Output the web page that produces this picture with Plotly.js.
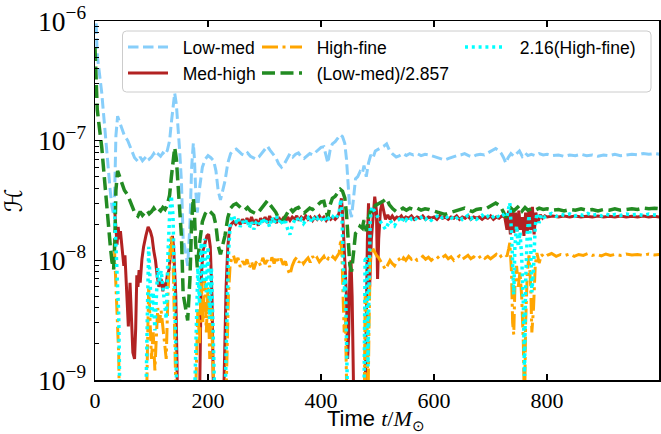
<!DOCTYPE html>
<html>
<head>
<meta charset="utf-8">
<script src="https://cdn.plot.ly/plotly-3.0.1.min.js"></script>
<style>html,body{margin:0;padding:0;background:#fff;}</style>
</head>
<body>
<div id="chart" style="width:661px;height:434px;"></div>
<script>
// ---- data: [time, H] ----
const lowMed = [[0,1.7e-6],[1,1.1e-6],[2,7e-7],[4,5.2e-7],[6,4.3e-7],[9,3.4e-7],[12,2.5e-7],[15,1.7e-7],[18,1.15e-7],[21,7.5e-8],[24,5e-8],[27,3.8e-8],[30,2.8e-8],[33,2.4e-8],[35,4e-8],[37,1.1e-7],[40,1.6e-7],[43,1.45e-7],[47,1.25e-7],[52,1.1e-7],[58,1.0e-7],[64,8.5e-8],[70,7.2e-8],[76,6.7e-8],[80,7.3e-8],[84,6.8e-8],[88,7.1e-8],[92,7.5e-8],[96,7.0e-8],[100,7.3e-8],[104,7.8e-8],[108,7.3e-8],[112,7.7e-8],[116,7.4e-8],[120,7.9e-8],[124,7.6e-8],[128,8.3e-8],[132,1.0e-7],[135,1.4e-7],[138,2.0e-7],[141,2.5e-7],[144,2.0e-7],[147,1.3e-7],[150,8e-8],[153,4.5e-8],[156,1.5e-8],[160,1.2e-8],[164,9e-9],[168,2e-8],[171,6e-8],[174,9.5e-8],[176,7e-8],[178,4e-8],[181,2.5e-8],[185,4e-8],[190,6e-8],[195,7e-8],[200,7.5e-8],[205,7.2e-8],[210,6.8e-8],[214,5.6e-8],[218,3.8e-8],[222,3.2e-8],[226,3.8e-8],[230,4.6e-8],[235,6.5e-8],[240,7.8e-8],[245,8.3e-8],[250,8.5e-8],[255,8.1e-8],[260,7.7e-8],[265,7.5e-8],[270,7.9e-8],[275,7.4e-8],[280,7.2e-8],[285,7.0e-8],[290,7.3e-8],[295,7.8e-8],[300,8.4e-8],[305,9e-8],[310,8.3e-8],[315,7.8e-8],[320,7.2e-8],[325,6.4e-8],[330,6.0e-8],[335,6.4e-8],[340,7.0e-8],[345,7.8e-8],[350,7.3e-8],[355,7.7e-8],[360,7.9e-8],[365,7.3e-8],[370,7.1e-8],[375,7.5e-8],[380,7.8e-8],[385,7.6e-8],[390,8.0e-8],[395,8.4e-8],[400,8.8e-8],[405,8.9e-8],[409,7.6e-8],[412,6.5e-8],[416,8.3e-8],[420,9.4e-8],[425,9.8e-8],[430,1.05e-7],[434,1.12e-7],[438,1.08e-7],[442,9.5e-8],[445,7e-8],[448,4e-8],[451,2.6e-8],[454,2.3e-8],[457,3.3e-8],[461,4.8e-8],[465,5.0e-8],[469,5.5e-8],[473,5.3e-8],[476,6.2e-8],[480,5.0e-8],[484,6.5e-8],[488,7.6e-8],[492,7.2e-8],[496,8.2e-8],[500,8.4e-8],[506,8.6e-8],[511,9.0e-8],[516,9.4e-8],[521,8.3e-8],[527,7.7e-8],[533,7.3e-8],[539,7.5e-8],[545,7.8e-8],[551,7.5e-8],[557,7.8e-8],[563,7.6e-8],[570,7.8e-8],[577,7.5e-8],[584,7.7e-8],[591,7.6e-8],[598,7.4e-8],[605,7.3e-8],[612,7.1e-8],[619,6.9e-8],[626,7.1e-8],[633,7.3e-8],[640,7.5e-8],[647,7.6e-8],[654,7.8e-8],[661,7.5e-8],[668,7.3e-8],[675,7.6e-8],[682,7.7e-8],[689,7.6e-8],[696,7.9e-8],[703,8.3e-8],[709,8.6e-8],[714,8.3e-8],[719,7.8e-8],[723,7.2e-8],[727,6.5e-8],[731,7.2e-8],[736,7.8e-8],[741,7.4e-8],[746,7.8e-8],[751,8.2e-8],[756,7.4e-8],[761,7.9e-8],[766,7.5e-8],[772,7.7e-8],[779,7.5e-8],[786,7.8e-8],[793,7.6e-8],[800,7.7e-8],[810,7.5e-8],[820,7.6e-8],[830,7.4e-8],[840,7.6e-8],[850,7.5e-8],[860,7.7e-8],[870,7.5e-8],[880,7.6e-8],[890,7.4e-8],[900,7.6e-8],[910,7.5e-8],[920,7.7e-8],[930,7.5e-8],[940,7.6e-8],[950,7.7e-8],[960,7.6e-8],[970,7.8e-8],[980,7.7e-8],[990,7.8e-8],[1000,7.7e-8]];

const medHigh = [[35,2.6e-8],[37,1.7e-8],[39,1.35e-8],[41,1.9e-8],[43,1.5e-8],[45,1.75e-8],[48,1.3e-8],[51,9e-9],[53,1.1e-8],[56,5e-9],[59,2.8e-9],[62,6.5e-9],[64,3.5e-9],[67,1.7e-9],[70,1.5e-9],[72,2.7e-9],[74,7.5e-9],[76,6e-9],[78,8.3e-9],[80,6.5e-9],[83,1.02e-8],[86,1.3e-8],[90,1.6e-8],[94,1.9e-8],[98,1.75e-8],[101,1.55e-8],[104,1.2e-8],[107,1.0e-8],[110,7.5e-9],[113,6e-9],[117,7e-9],[120,5.5e-9],[122,6.5e-9],[125,6e-9],[128,7.5e-9],[131,8.3e-9],[134,1.2e-8],[137,1.6e-8],[139,1.3e-8],[141,9e-9],[143,5e-9],[145,1.5e-9],[147,3e-10],[184,3e-10],[186,1.5e-9],[188,7e-9],[191,1.2e-8],[195,1.4e-8],[198,1.6e-8],[201,1.65e-8],[204,1.3e-8],[207,5e-9],[209,2e-9],[211,3e-10],[226,3e-10],[229,1.5e-9],[232,6e-9],[235,1.3e-8],[238,1.8e-8],[241,2.0e-8],[245,2.1e-8],[249,2.0e-8],[253,2.15e-8],[257,2.0e-8],[261,2.2e-8],[265,2.05e-8],[269,2.25e-8],[273,2.05e-8],[277,2.3e-8],[281,2.0e-8],[285,2.2e-8],[289,1.95e-8],[293,2.25e-8],[297,2.1e-8],[301,2.3e-8],[305,2.05e-8],[309,2.35e-8],[313,2.1e-8],[317,2.25e-8],[321,2.05e-8],[325,2.3e-8],[329,2.1e-8],[333,2.25e-8],[337,2.1e-8],[341,2.3e-8],[345,2.15e-8],[349,2.3e-8],[353,2.2e-8],[357,2.35e-8],[361,2.15e-8],[365,2.3e-8],[369,2.2e-8],[373,2.35e-8],[377,2.2e-8],[381,2.3e-8],[385,2.15e-8],[389,2.3e-8],[393,2.2e-8],[397,2.35e-8],[401,2.2e-8],[405,2.3e-8],[409,2.15e-8],[413,2.3e-8],[417,2.2e-8],[421,2.3e-8],[425,2.2e-8],[429,2.3e-8],[432,2.5e-8],[434,3.0e-8],[436,3.3e-8],[438,2.5e-8],[440,1.5e-8],[442,9e-9],[445,5e-9],[447,1.5e-9],[449,2.5e-9],[451,8e-9],[453,1.0e-8],[455,5e-9],[457,1.5e-9],[459,3e-10],[477,3e-10],[480,4.5e-9],[482,1.5e-8],[484,3e-8],[486,6e-9],[489,1.5e-8],[492,2.5e-8],[495,3.4e-8],[498,2.6e-8],[500,7e-9],[502,1.5e-8],[505,2.6e-8],[508,3.0e-8],[511,2.5e-8],[514,2.2e-8],[518,2.4e-8],[522,2.2e-8],[526,2.35e-8],[530,2.2e-8],[534,2.3e-8],[538,2.25e-8],[542,2.35e-8],[546,2.2e-8],[550,2.3e-8],[555,2.25e-8],[560,2.35e-8],[565,2.2e-8],[570,2.3e-8],[575,2.25e-8],[580,2.35e-8],[585,2.2e-8],[590,2.3e-8],[595,2.25e-8],[600,2.3e-8],[605,2.2e-8],[610,2.35e-8],[615,2.25e-8],[620,2.3e-8],[625,2.2e-8],[630,2.3e-8],[635,2.25e-8],[640,2.35e-8],[645,2.2e-8],[650,2.3e-8],[655,2.25e-8],[660,2.35e-8],[665,2.2e-8],[670,2.3e-8],[675,2.25e-8],[680,2.3e-8],[685,2.2e-8],[690,2.3e-8],[695,2.25e-8],[700,2.35e-8],[705,2.2e-8],[710,2.3e-8],[715,2.25e-8],[720,2.35e-8],[725,2.3e-8],[729,1.8e-8],[732,2.6e-8],[735,1.65e-8],[738,2.7e-8],[741,1.7e-8],[744,2.5e-8],[747,1.75e-8],[750,2.6e-8],[753,1.8e-8],[756,2.3e-8],[759,1.6e-8],[762,2.5e-8],[765,1.7e-8],[768,2.7e-8],[771,1.8e-8],[774,2.8e-8],[777,1.65e-8],[780,2.5e-8],[784,2.1e-8],[788,2.4e-8],[792,2.25e-8],[796,2.35e-8],[800,2.3e-8],[810,2.35e-8],[820,2.3e-8],[830,2.35e-8],[840,2.3e-8],[850,2.35e-8],[860,2.3e-8],[870,2.33e-8],[880,2.3e-8],[890,2.35e-8],[900,2.3e-8],[910,2.33e-8],[920,2.3e-8],[930,2.35e-8],[940,2.3e-8],[950,2.33e-8],[960,2.3e-8],[970,2.35e-8],[980,2.3e-8],[990,2.33e-8],[1000,2.3e-8]];

const highFine = [[34,1.4e-8],[36,8e-9],[38,4e-9],[40,2e-9],[42,1.6e-9],[44,3e-10],[90,3e-10],[93,2e-9],[95,6e-9],[97,3.5e-9],[100,1.5e-9],[103,2.5e-9],[106,1.2e-9],[108,2e-9],[111,4e-9],[114,3e-9],[117,3.8e-9],[120,2.8e-9],[123,2e-9],[126,1.5e-9],[129,5e-9],[132,1.1e-8],[135,1.6e-8],[138,1.1e-8],[140,4e-9],[142,2e-9],[145,3e-10],[176,3e-10],[179,1.5e-9],[182,4e-9],[185,2e-9],[188,6.5e-9],[191,3e-9],[194,7e-9],[197,2.5e-9],[200,6e-9],[203,1.5e-9],[206,4e-9],[209,1.2e-9],[212,3e-10],[230,3e-10],[233,1.5e-9],[236,5e-9],[239,9e-9],[242,1.05e-8],[245,1.1e-8],[249,9.5e-9],[253,1.05e-8],[257,8.8e-9],[261,9.8e-9],[265,9.2e-9],[269,1.02e-8],[273,8.6e-9],[277,9.8e-9],[281,8.4e-9],[285,9.6e-9],[289,1.0e-8],[293,9e-9],[297,1.05e-8],[301,9.3e-9],[305,1.0e-8],[309,8.8e-9],[313,1.06e-8],[317,9.4e-9],[321,1.08e-8],[325,9.6e-9],[329,1.03e-8],[333,9.2e-9],[337,9.8e-9],[341,8.4e-9],[345,7.6e-9],[349,9e-9],[353,1.0e-8],[357,1.06e-8],[361,9.6e-9],[365,1.02e-8],[369,9.4e-9],[373,1.0e-8],[377,1.05e-8],[381,9.6e-9],[385,1.08e-8],[389,1.0e-8],[393,1.05e-8],[397,9.7e-9],[401,1.03e-8],[405,1.08e-8],[409,9.8e-9],[413,1.04e-8],[417,1.0e-8],[421,1.07e-8],[425,1.02e-8],[429,1.1e-8],[432,1.15e-8],[435,1.5e-8],[437,1.1e-8],[439,5e-9],[441,2.5e-9],[443,3.5e-9],[445,1.5e-9],[447,3e-10],[476,3e-10],[478,5e-9],[481,4.5e-9],[483,6e-10],[485,3e-9],[487,1.0e-8],[490,1.3e-8],[494,1.2e-8],[498,1.1e-8],[502,1.05e-8],[506,9.6e-9],[510,9e-9],[514,8.4e-9],[518,9.2e-9],[522,1.0e-8],[526,9.4e-9],[530,9e-9],[534,9.8e-9],[538,1.02e-8],[542,9.6e-9],[546,1.05e-8],[550,1.0e-8],[555,1.08e-8],[560,1.02e-8],[565,1.06e-8],[570,1.0e-8],[575,1.04e-8],[580,1.08e-8],[585,1.02e-8],[590,1.06e-8],[595,1.0e-8],[600,1.05e-8],[605,1.08e-8],[610,1.02e-8],[615,1.06e-8],[620,1.1e-8],[625,1.03e-8],[630,1.07e-8],[635,1.0e-8],[640,1.05e-8],[645,1.09e-8],[650,1.02e-8],[655,1.06e-8],[660,1.1e-8],[665,1.03e-8],[670,1.07e-8],[675,1.02e-8],[680,1.06e-8],[685,1.1e-8],[690,1.04e-8],[695,1.08e-8],[700,1.03e-8],[705,1.08e-8],[710,1.12e-8],[715,1.05e-8],[720,1.1e-8],[725,1.13e-8],[729,1.08e-8],[732,1.25e-8],[734,1.4e-8],[737,8e-9],[739,3e-9],[741,2.4e-9],[743,6e-9],[746,9e-9],[749,6e-9],[752,8e-9],[755,5e-9],[758,2e-9],[760,5e-10],[762,3e-9],[765,8e-9],[768,1.1e-8],[771,6e-9],[773,2.5e-9],[776,4e-9],[779,9e-9],[782,1.15e-8],[786,9.5e-9],[790,1.12e-8],[795,1.06e-8],[800,1.1e-8],[808,1.14e-8],[816,1.08e-8],[824,1.12e-8],[832,1.1e-8],[840,1.13e-8],[848,1.08e-8],[856,1.12e-8],[864,1.1e-8],[872,1.14e-8],[880,1.1e-8],[888,1.12e-8],[896,1.09e-8],[904,1.13e-8],[912,1.1e-8],[920,1.12e-8],[930,1.1e-8],[940,1.13e-8],[950,1.11e-8],[960,1.12e-8],[970,1.1e-8],[980,1.13e-8],[990,1.11e-8],[1000,1.12e-8]];

// scale factors stated in the legend labels
const LOW_MED_DIVISOR = 2.857;
const HIGH_FINE_FACTOR = 2.16;
const lowMedScaled = lowMed.map(p => [p[0], p[1] / LOW_MED_DIVISOR]);
const highFineScaled = highFine.map(p => [p[0], p[1] * HIGH_FINE_FACTOR]);

const seriesNames = ['Low-med', 'Med-high', 'High-fine', '(Low-med)/2.857', '2.16(High-fine)'];
const xTicks = [0, 200, 400, 600, 800];

const xs = a => a.map(p => p[0]);
const ys = a => a.map(p => p[1]);
const gap = '\u00A0\u00A0';  // space between legend sample and label

const traces = [
  {x: xs(lowMed), y: ys(lowMed), name: gap + seriesNames[0], legend: 'legend',
   line: {color: '#87CEFA', width: 3, dash: '10.5px,4.5px'}},
  {x: xs(medHigh), y: ys(medHigh), name: gap + seriesNames[1], legend: 'legend2',
   line: {color: '#B22222', width: 3}},
  {x: xs(highFine), y: ys(highFine), name: gap + seriesNames[2], legend: 'legend3',
   line: {color: '#FFA500', width: 3, dash: '16px,4.5px,3px,4.5px'}},
  {x: xs(lowMedScaled), y: ys(lowMedScaled), name: gap + seriesNames[3], legend: 'legend4',
   line: {color: '#228B22', width: 3.5, dash: '13px,5.5px'}},
  {x: xs(highFineScaled), y: ys(highFineScaled), name: gap + seriesNames[4], legend: 'legend5',
   line: {color: '#00FFFF', width: 3.5, dash: '3px,3.8px'}}
].map(t => Object.assign({type: 'scatter', mode: 'lines', hoverinfo: 'skip'}, t));

// plot area in px: x 95..659, y 21..380
const W = 564, H = 359;
const px = v => (v - 95) / W;
const py = v => (380 - v) / H;

const legFont = {family: 'Liberation Sans, Arial, sans-serif', size: 17.5, color: 'black'};
function leg(xp, yp) {
  return {x: px(xp), y: py(yp), xanchor: 'left', yanchor: 'middle',
          bgcolor: 'rgba(0,0,0,0)', borderwidth: 0, font: legFont, itemwidth: 40};
}

// rounded legend frame
const fx0 = px(122.5), fx1 = px(651), fy0 = py(92), fy1 = py(31);
const rx = 4 / W, ry = 4 / H;
const framePath = `M${fx0+rx},${fy1} L${fx1-rx},${fy1} Q${fx1},${fy1} ${fx1},${fy1-ry} L${fx1},${fy0+ry} Q${fx1},${fy0} ${fx1-rx},${fy0} L${fx0+rx},${fy0} Q${fx0},${fy0} ${fx0},${fy0+ry} L${fx0},${fy1-ry} Q${fx0},${fy1} ${fx0+rx},${fy1} Z`;

const serif = 'Liberation Serif, Times New Roman, serif';
const xTitle = 'Time <span style="font-family:Liberation Serif"><i>t</i>/<i>M</i><sub>⊙</sub></span>';
const layout = {
  width: 661, height: 434,
  margin: {l: 95, r: 2, t: 21, b: 54},
  paper_bgcolor: 'white', plot_bgcolor: 'white',
  showlegend: true,
  xaxis: {
    range: [0, 998], tickvals: xTicks, ticktext: xTicks.map(String),
    ticks: 'inside', ticklen: 6, tickwidth: 1.2, tickcolor: 'black',
    showline: true, linecolor: 'black', linewidth: 1.5, mirror: 'ticks',
    showgrid: false, zeroline: false,
    tickfont: {family: serif, size: 22, color: 'black'},
    title: {text: ''}
  },
  yaxis: {
    type: 'log', range: [-9, -6], dtick: 1, exponentformat: 'power',
    ticks: 'inside', ticklen: 7, tickwidth: 1.2, tickcolor: 'black',
    minor: {ticks: 'inside', ticklen: 4, tickwidth: 1, tickcolor: 'black', dtick: 'D1', showgrid: false},
    showline: true, linecolor: 'black', linewidth: 1.5, mirror: true,
    showgrid: false, zeroline: false,
    tickfont: {family: serif, size: 22, color: 'black'},
    ticklabelstandoff: 3,
    title: {text: 'ℋ', font: {family: 'DejaVu Serif, DejaVu Sans, serif', size: 24, color: 'black'}, standoff: 8}
  },
  annotations: [{
    text: xTitle, xref: 'paper', yref: 'paper', x: px(376), y: py(420),
    xanchor: 'center', yanchor: 'middle', showarrow: false,
    font: {family: 'Liberation Sans, Arial, sans-serif', size: 22, color: 'black'}
  }],
  legend: leg(123, 47),
  legend2: leg(123, 73),
  legend3: leg(257, 47),
  legend4: leg(257, 73),
  legend5: leg(460, 47),
  shapes: [{type: 'path', xref: 'paper', yref: 'paper', path: framePath,
            line: {color: '#cccccc', width: 1}, fillcolor: 'rgba(255,255,255,0.8)', layer: 'above'}]
};

Plotly.newPlot('chart', traces, layout, {staticPlot: true, displayModeBar: false});
</script>
</body>
</html>
